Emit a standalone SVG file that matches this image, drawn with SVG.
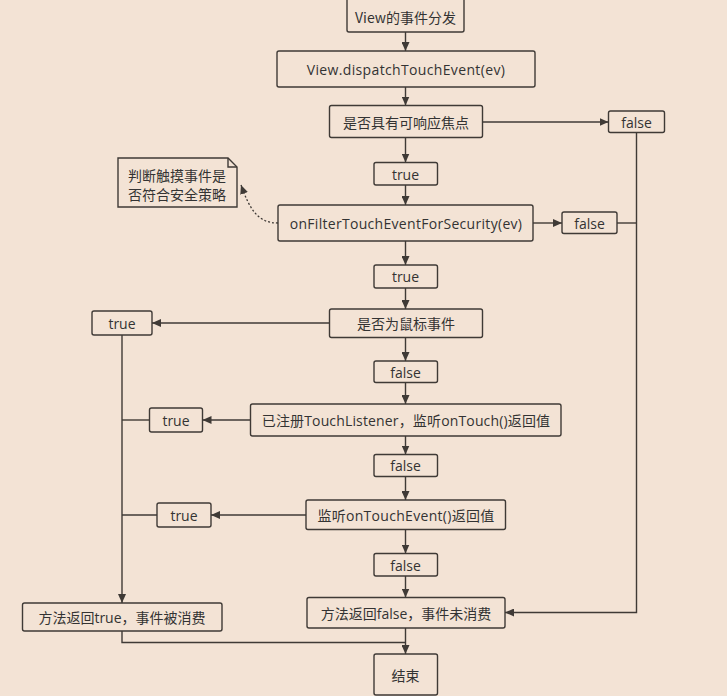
<svg xmlns="http://www.w3.org/2000/svg" width="727" height="696" viewBox="0 0 727 696">
<style>
.bg{fill:#f3e3d5}
.box{fill:#f3e3d5;stroke:#3f3a36;stroke-width:1.4}
.t{font-family:"Open Sans","Noto Sans CJK SC",sans-serif;font-size:14px;fill:#333;text-anchor:middle;dominant-baseline:central}
.tc{font-family:"Noto Sans CJK SC","Open Sans",sans-serif;font-size:14px;fill:#333;text-anchor:middle;dominant-baseline:central}
.ls{letter-spacing:0.35px}
.ln{fill:none;stroke:#3f3a36;stroke-width:1.4}
.arr{marker-end:url(#ah)}
.dot{fill:none;stroke:#3f3a36;stroke-width:1.3;stroke-dasharray:2 2}
</style>
<defs>
<marker id="ah" markerWidth="10" markerHeight="8" refX="9" refY="4" orient="auto" markerUnits="userSpaceOnUse">
<path d="M0,0 L9,4 L0,8 Z" fill="#3f3a36"/>
</marker>
</defs>
<rect class="bg" x="0" y="0" width="727" height="696"/>

<g id="connectors">
<path class="ln arr" d="M405.5,32 V51"/>
<path class="ln arr" d="M405.5,87 V105.5"/>
<path class="ln arr" d="M405.5,137.5 V162.5"/>
<path class="ln arr" d="M405.5,185 V205"/>
<path class="ln arr" d="M405.5,241 V265"/>
<path class="ln arr" d="M405.5,288 V309"/>
<path class="ln arr" d="M405.5,337.5 V361"/>
<path class="ln arr" d="M405.5,382.5 V404"/>
<path class="ln arr" d="M405.5,436 V454.5"/>
<path class="ln arr" d="M405.5,476.5 V500"/>
<path class="ln arr" d="M405.5,529.5 V553.5"/>
<path class="ln arr" d="M405.5,576 V597.5"/>
<path class="ln arr" d="M405.5,628 V654"/>
<path class="ln arr" d="M482.5,122 H608.5"/>
<path class="ln arr" d="M636.5,132.5 V612.5 H505"/>
<path class="ln arr" d="M533,223 H562"/>
<path class="ln" d="M617,223 H636.5"/>
<path class="dot arr" d="M278,223 C258,223 250,210 241,185"/>
<path class="ln arr" d="M329.5,323 H152"/>
<path class="ln arr" d="M122,335 V603"/>
<path class="ln arr" d="M250.5,420 H202.5"/>
<path class="ln" d="M149.5,420 H122"/>
<path class="ln arr" d="M306,515 H211"/>
<path class="ln" d="M157,515 H122"/>
<path class="ln" d="M122,631 V642.5 H405.5"/>
</g>

<g id="n1"><rect class="box" x="347" y="-3" width="117" height="35" rx="2"/><text class="tc" x="405.5" y="17">View的事件分发</text></g>
<g id="n2"><rect class="box" x="277" y="51" width="258" height="36" rx="2"/><text class="t ls" x="406" y="69">View.dispatchTouchEvent(ev)</text></g>
<g id="n3"><rect class="box" x="329.5" y="105.5" width="153" height="32" rx="2"/><text class="tc" x="406" y="121.5">是否具有可响应焦点</text></g>
<g id="f1"><rect class="box" x="608.5" y="111" width="56" height="21.5" rx="2"/><text class="t" x="636.5" y="122">false</text></g>
<g id="t1"><rect class="box" x="374" y="162.5" width="63.5" height="22.5" rx="2"/><text class="t" x="405.5" y="174">true</text></g>
<g id="note"><path class="box" d="M118,158 H228 L237,167 V207 H118 Z"/><path class="ln" d="M228,158 V167 H237"/><text class="tc" style="text-anchor:start" x="128" y="175">判断触摸事件是</text><text class="tc" style="text-anchor:start" x="128" y="194">否符合安全策略</text></g>
<g id="n4"><rect class="box" x="278" y="205" width="255" height="36" rx="2"/><text class="t" style="letter-spacing:0.3px" x="406" y="223">onFilterTouchEventForSecurity(ev)</text></g>
<g id="f2"><rect class="box" x="562" y="212" width="55" height="21.5" rx="2"/><text class="t" x="589.5" y="223">false</text></g>
<g id="t2"><rect class="box" x="374" y="265" width="63.5" height="23" rx="2"/><text class="t" x="405.5" y="276.5">true</text></g>
<g id="n5"><rect class="box" x="329.5" y="309" width="153" height="28.5" rx="2"/><text class="tc" x="406" y="323">是否为鼠标事件</text></g>
<g id="t3"><rect class="box" x="92" y="311" width="60" height="24" rx="2"/><text class="t" x="122" y="323">true</text></g>
<g id="f3"><rect class="box" x="374" y="361" width="63.5" height="21.5" rx="2"/><text class="t" x="405.5" y="372">false</text></g>
<g id="n6"><rect class="box" x="250.5" y="404" width="310.5" height="32" rx="2"/><text class="t" style="letter-spacing:0.15px" x="406" y="420">已注册TouchListener，监听onTouch()返回值</text></g>
<g id="t4"><rect class="box" x="149.5" y="408" width="53" height="24" rx="2"/><text class="t" x="176" y="420">true</text></g>
<g id="f4"><rect class="box" x="374" y="454.5" width="63.5" height="22" rx="2"/><text class="t" x="405.5" y="465.5">false</text></g>
<g id="n7"><rect class="box" x="306" y="500" width="199.5" height="29.5" rx="2"/><text class="t" style="letter-spacing:0.3px" x="406" y="515">监听onTouchEvent()返回值</text></g>
<g id="t5"><rect class="box" x="157" y="503" width="54" height="24" rx="2"/><text class="t" x="184" y="515">true</text></g>
<g id="f5"><rect class="box" x="374" y="553.5" width="63.5" height="22.5" rx="2"/><text class="t" x="405.5" y="565">false</text></g>
<g id="n8"><rect class="box" x="22.5" y="603" width="199.5" height="28" rx="2"/><text class="t" x="122" y="617">方法返回true，事件被消费</text></g>
<g id="n9"><rect class="box" x="307" y="597.5" width="198" height="30.5" rx="2"/><text class="t" x="406" y="613">方法返回false，事件未消费</text></g>
<g id="n10"><rect class="box" x="374" y="654" width="63.5" height="41" rx="2"/><text class="tc" x="405.5" y="675">结束</text></g>
</svg>
